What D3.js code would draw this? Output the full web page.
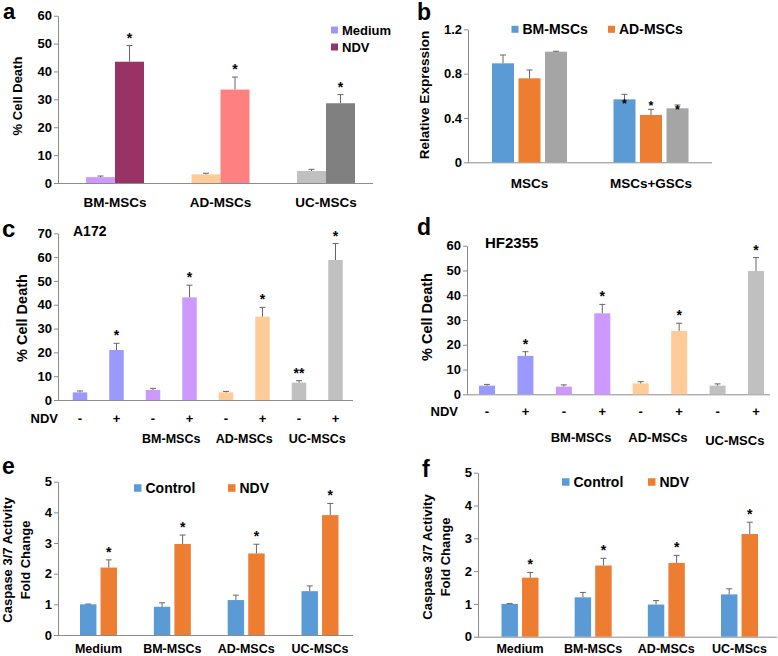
<!DOCTYPE html>
<html>
<head>
<meta charset="utf-8">
<script src="https://cdn.jsdelivr.net/npm/d3@7"></script>
<style>
  body { margin: 0; background: #fff; }
  text { font-family: "Liberation Sans", Arial, sans-serif; font-weight: bold; fill: #000; }
</style>
</head>
<body>
<svg id="fig" width="778" height="656"></svg>
<script>
// ---- panel a
var aGroups = ["BM-MSCs", "AD-MSCs", "UC-MSCs"];
var aSeries = ["Medium", "NDV"];
var aValues = [[2.1, 43.5], [3.1, 33.5], [4.3, 28.6]];
var aErrors = [[0.4, 5.8], [0.4, 4.5], [0.6, 3.1]];
var aStars = [["", "*"], ["", "*"], ["", "*"]];
var aColors = [["#cc99ff", "#993366"], ["#ffcc99", "#ff8080"], ["#c0c0c0", "#808080"]];
var aLegendColors = ["#9999ff", "#993366"];
var aTicks = [0, 10, 20, 30, 40, 50, 60];

// ---- panel b
var bGroups = ["MSCs", "MSCs+GSCs"];
var bSeries = ["BM-MSCs", "AD-MSCs", "UC-MSCs"];
var bLegend = ["BM-MSCs", "AD-MSCs"];
var bValues = [[0.893, 0.758, 0.998], [0.568, 0.427, 0.487]];
var bErrors = [[0.075, 0.075, 0.004], [0.045, 0.051, 0.03]];
var bStarAt = [[null, null, null], [0.553, 0.532, 0.502]];
var bColors = ["#5b9bd5", "#ed7d31", "#a5a5a5"];
var bTicks = [0, 0.4, 0.8, 1.2];

// ---- panel c (A172)
var cNdv = ["-", "+", "-", "+", "-", "+", "-", "+"];
var cValues = [3.2, 21.0, 4.2, 43.1, 3.2, 35.0, 7.3, 58.8];
var cErrors = [0.6, 2.8, 0.7, 5.1, 0.4, 3.9, 0.8, 6.9];
var cStars = ["", "*", "", "*", "", "*", "**", "*"];
var cColors = ["#9999ff", "#9999ff", "#cc99ff", "#cc99ff", "#ffcc99", "#ffcc99", "#c0c0c0", "#c0c0c0"];
var cTicks = [0, 10, 20, 30, 40, 50, 60, 70];
var cdGroups = ["BM-MSCs", "AD-MSCs", "UC-MSCs"];

// ---- panel d (HF2355)
var dValues = [3.5, 15.5, 3.1, 32.7, 4.4, 25.6, 3.5, 49.8];
var dErrors = [0.5, 1.7, 0.7, 3.6, 0.7, 3.1, 0.7, 5.4];
var dStars = ["", "*", "", "*", "", "*", "", "*"];
var dTicks = [0, 10, 20, 30, 40, 50, 60];

// ---- panels e and f
var efSeries = ["Control", "NDV"];
var efColors = ["#5b9bd5", "#ed7d31"];
var eGroups = ["Medium", "BM-MSCs", "AD-MSCs", "UC-MSCs"];
var eValues = [[1.0, 2.2], [0.92, 2.97], [1.14, 2.66], [1.43, 3.91]];
var eErrors = [[0.01, 0.25], [0.13, 0.29], [0.16, 0.3], [0.17, 0.38]];
var fGroups = ["Medium", "BM-MSCs", "AD-MSCs", "UC-MScs"];
var fValues = [[1.0, 1.8], [1.2, 2.17], [0.98, 2.25], [1.29, 3.13]];
var fErrors = [[0.01, 0.16], [0.15, 0.22], [0.12, 0.23], [0.17, 0.36]];
var efTicks = [0, 1, 2, 3, 4, 5];

var svg = d3.select("#fig");
svg.append("rect").attr("width", 778).attr("height", 656).attr("fill", "#fff");

var AXIS = "#8c8c8c", ERR = "#666";

function label(x, y, txt, size, anchor) {
  return svg.append("text").attr("x", x).attr("y", y).text(txt)
    .style("font-size", size + "px").attr("text-anchor", anchor || "start");
}

function yTitle(x, y, txt, size) {
  svg.append("text").attr("transform", "translate(" + x + "," + y + ") rotate(-90)")
    .attr("text-anchor", "middle").style("font-size", size + "px").text(txt);
}

function axes(x0, xEnd, y, ticks, fmt) {
  svg.append("line").attr("x1", x0).attr("x2", xEnd)
    .attr("y1", y(0) + 0.5).attr("y2", y(0) + 0.5).attr("stroke", AXIS);
  svg.append("g").attr("transform", "translate(" + x0 + ",0)")
    .call(d3.axisLeft(y).tickValues(ticks).tickFormat(fmt || d3.format("d"))
      .tickSize(4).tickSizeOuter(0).tickPadding(2))
    .call(function (g) {
      g.attr("font-family", null).attr("font-size", null);
      g.select(".domain").attr("stroke", AXIS);
      g.selectAll(".tick line").attr("stroke", AXIS);
      g.selectAll(".tick text").style("font-size", "13px").attr("fill", "#000");
    });
}

// one bar with its upper error bar and star
function bar(cx, w, y, v, e, color, star, starSize) {
  svg.append("rect").attr("x", cx - w / 2).attr("width", w)
    .attr("y", y(v)).attr("height", y(0) - y(v)).attr("fill", color);
  if (e > 0) {
    svg.append("line").attr("x1", cx).attr("x2", cx).attr("y1", y(v)).attr("y2", y(v + e))
      .attr("stroke", ERR);
    svg.append("line").attr("x1", cx - 3).attr("x2", cx + 3).attr("y1", y(v + e)).attr("y2", y(v + e))
      .attr("stroke", ERR);
  }
  if (star) label(cx, y(v + e) - 3, star, starSize || 14, "middle");
}

function legendItem(x, yc, size, color, txt, fs) {
  svg.append("rect").attr("x", x).attr("y", yc - size / 2).attr("width", size).attr("height", size)
    .attr("fill", color);
  label(x + size + 4, yc + fs * 0.36, txt, fs);
}

// ================= a
(function () {
  var y = d3.scaleLinear().domain([0, 60]).range([183, 15.7]);
  var x0 = d3.scalePoint().domain(aGroups).range([115, 326]);
  var x1 = d3.scaleBand().domain(aSeries).range([-29, 29]);
  axes(58, 373, y, aTicks);
  aGroups.forEach(function (g, i) {
    aSeries.forEach(function (s, j) {
      bar(x0(g) + x1(s) + x1.bandwidth() / 2, x1.bandwidth(), y,
        aValues[i][j], aErrors[i][j], aColors[i][j], aStars[i][j]);
    });
    label(x0(g), 207, g, 13.5, "middle");
  });
  aSeries.forEach(function (s, j) {
    legendItem(331, 30 + j * 17, 7, aLegendColors[j], s, 13);
  });
  yTitle(22, 96, "% Cell Death", 13);
  label(3, 19, "a", 22);
})();

// ================= b
(function () {
  var y = d3.scaleLinear().domain([0, 1.2]).range([162.3, 29.3]);
  var x0 = d3.scalePoint().domain(bGroups).range([529.5, 651]);
  var x1 = d3.scaleBand().domain(bSeries).range([-37.5, 37.5]).paddingInner(0.17);
  axes(468, 712, y, bTicks, function (d) { return d === 0 ? "0" : d3.format(".1f")(d); });
  bGroups.forEach(function (g, i) {
    bSeries.forEach(function (s, j) {
      var cx = x0(g) + x1(s) + x1.bandwidth() / 2;
      bar(cx, x1.bandwidth(), y, bValues[i][j], bErrors[i][j], bColors[j], "");
      if (bStarAt[i][j] !== null) label(cx, y(bStarAt[i][j]) + 7, "*", 12.5, "middle");
    });
    label(x0(g), 188, g, 13.5, "middle");
  });
  legendItem(511.5, 29.3, 7, bColors[0], bLegend[0], 14);
  legendItem(608, 29.3, 7, bColors[1], bLegend[1], 14);
  yTitle(429, 95, "Relative Expression", 13.5);
  label(417, 20, "b", 23);
})();

// ================= c
(function () {
  var y = d3.scaleLinear().domain([0, 70]).range([400, 233.3]);
  var x = d3.scalePoint().domain(d3.range(8)).range([80, 335.5]);
  axes(58, 353, y, cTicks);
  cValues.forEach(function (v, i) {
    bar(x(i), 14.5, y, v, cErrors[i], cColors[i], cStars[i]);
    label(x(i), 423, cNdv[i], 13, "middle");
  });
  label(58, 423, "NDV", 13, "end");
  cdGroups.forEach(function (g, k) {
    label((x(2 * k + 2) + x(2 * k + 3)) / 2, 443, g, 12.5, "middle");
  });
  label(73, 236, "A172", 14);
  yTitle(27, 318, "% Cell Death", 14.5);
  label(2, 237, "c", 24);
})();

// ================= d
(function () {
  var y = d3.scaleLinear().domain([0, 60]).range([394.3, 245.7]);
  var x = d3.scalePoint().domain(d3.range(8)).range([487, 756]);
  axes(467, 770, y, dTicks);
  dValues.forEach(function (v, i) {
    bar(x(i), 16, y, v, dErrors[i], cColors[i], dStars[i]);
    label(x(i), 416, cNdv[i], 13, "middle");
  });
  label(458, 416, "NDV", 13, "end");
  cdGroups.forEach(function (g, k) {
    label((x(2 * k + 2) + x(2 * k + 3)) / 2 - 2, 442 + (k === 2 ? 3 : 0), g, 13, "middle");
  });
  label(485, 248, "HF2355", 15);
  yTitle(432, 317, "% Cell Death", 14.5);
  label(417, 235, "d", 23);
})();

// ================= e, f
function casp(groups, values, errors, yTop, yBot, xr, axisX, axisEnd, legX, legY, titleX, titleY, letter, letterXY) {
  var y = d3.scaleLinear().domain([0, 5]).range([yBot, yTop]);
  var x0 = d3.scalePoint().domain(groups).range(xr);
  var x1 = d3.scaleBand().domain(efSeries).range([-18.5, 18.5]).paddingInner(0.2);
  axes(axisX, axisEnd, y, efTicks);
  groups.forEach(function (g, i) {
    efSeries.forEach(function (s, j) {
      bar(x0(g) + x1(s) + x1.bandwidth() / 2, x1.bandwidth(), y,
        values[i][j], errors[i][j], efColors[j], j === 1 ? "*" : "");
    });
    label(x0(g), 653, g, 12.5, "middle");
  });
  efSeries.forEach(function (s, j) {
    legendItem(legX[j], legY, 7.5, efColors[j], s, 14);
  });
  svg.append("text").attr("transform", "translate(" + titleX + "," + titleY + ") rotate(-90)")
    .attr("text-anchor", "middle").style("font-size", "13px")
    .selectAll("tspan").data(["Caspase 3/7 Activity", "Fold Change"]).join("tspan")
    .attr("x", 0).attr("dy", function (d, i) { return i === 0 ? 0 : 18; }).text(function (d) { return d; });
  label(letterXY[0], letterXY[1], letter, 23);
}

casp(eGroups, eValues, eErrors, 481.7, 635, [98.5, 320], 58, 353, [134, 228], 488, 12, 560, "e", [2, 474]);
casp(fGroups, fValues, fErrors, 472.7, 636.7, [520, 739.5], 478, 777, [562, 648], 482, 432, 557, "f", [422, 477]);
</script>
</body>
</html>
